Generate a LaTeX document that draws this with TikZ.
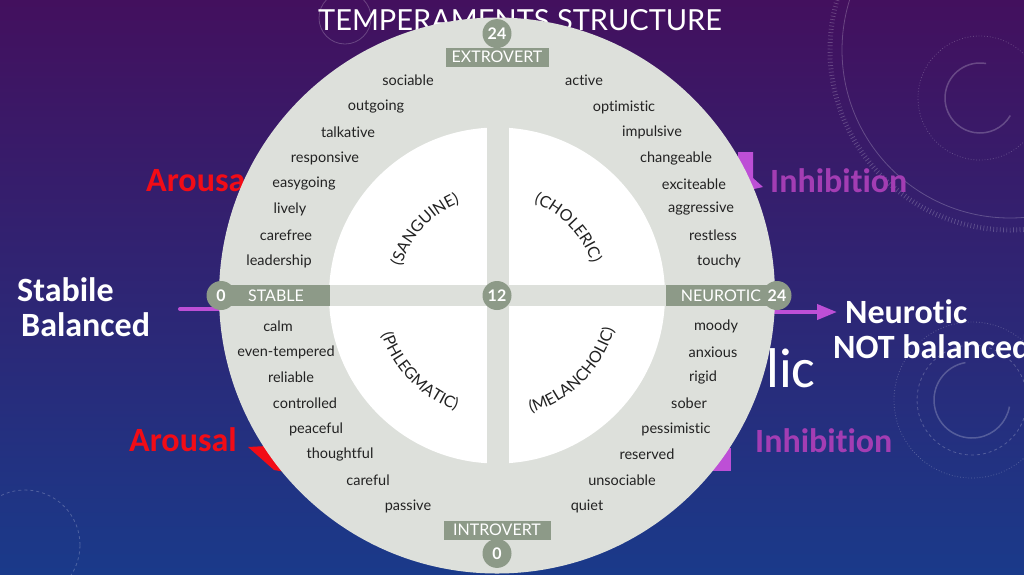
\documentclass[tikz,border=0pt]{standalone}
\usepackage{fontspec}
\setmainfont{Lato}[Ligatures=NoCommon]
\newfontfamily\slidefont{Carlito}[Ligatures=NoCommon]
\usepackage{tikz}
\usetikzlibrary{positioning,decorations.text,arrows.meta}

\definecolor{bgTop}{HTML}{43105E}
\definecolor{bgMid}{HTML}{33216F}
\definecolor{bgBot}{HTML}{1A3A8A}
\definecolor{ringGray}{HTML}{DDE0DB}
\definecolor{axisGreen}{HTML}{8D9A88}
\definecolor{traitInk}{HTML}{222222}
\definecolor{arousalRed}{HTML}{F20C16}
\definecolor{inhibPurple}{HTML}{A33DB3}
\definecolor{arrowPurple}{HTML}{BD4FD6}

\newcommand\traitsize{\fontsize{14.5}{16}\selectfont}
\newcommand\quadsize{\fontsize{16}{18}\selectfont}

\tikzset{
	trait/.style={text=traitInk, font=\traitsize, inner sep=0pt},
	axisbar/.style={fill=axisGreen, text=white, font=\fontsize{16}{18}\selectfont, inner sep=0pt, minimum height=21pt},
	badge/.style={circle, fill=axisGreen, text=white, font=\bfseries\fontsize{16}{18}\selectfont, minimum size=29pt, inner sep=0pt},
	slideword/.style={font=\slidefont\bfseries\fontsize{34}{38}\selectfont, inner sep=0pt, anchor=west},
	temperament/.style={decorate, decoration={text along path, text align=center, text={|\quadsize\color{traitInk}|#1}}},
	faint/.style={draw=white, opacity=.22, line width=.8pt},
}

\begin{document}
\begin{tikzpicture}[x=1pt, y=1pt]
		\useasboundingbox (0,0) rectangle (1024,-574);
		\clip (0,0) rectangle (1024,-574);
		\shade[top color=bgTop, middle color=bgMid, bottom color=bgBot] (0,0) rectangle (1024,-574);
		
		% slide background rings
		\draw[faint, line width=5pt, dash pattern=on .7pt off 2.6pt] (1010,-50) circle[radius=180];
		\draw[faint] (1010,-50) circle[radius=168];
		\draw[faint, dotted] (980,-98) circle[radius=62];
		\draw[faint, line width=1.5pt] ([shift={(980,-98)}]80:35) arc[start angle=80, end angle=330, radius=35];
		\draw[faint, dashed] (972,-400) circle[radius=55];
		\draw[faint, dotted] (972,-400) circle[radius=78];
		\draw[faint, line width=1.5pt] ([shift={(972,-400)}]100:38) arc[start angle=100, end angle=350, radius=38];
		\draw[faint, dashed] (25,-545) circle[radius=55];
		\draw[faint] (345,-18) circle[radius=26];
		
		\node[text=white, font=\fontsize{29}{32}\selectfont, inner sep=0pt] (title) at (520,-20) {TEMPERAMENTS STRUCTURE};
		
		\node[slideword, text=arousalRed] (arousalTop) at (146,-181) {Arousa};
		\node[slideword, text=arousalRed] (arousalBot) at (129,-440) {Arousal};
		\node[slideword, text=inhibPurple] (inhibTop) at (770,-181) {Inhibition};
		\node[slideword, text=inhibPurple] (inhibBot) at (755,-441) {Inhibition};
		\node[slideword, text=white] (stabile) at (17,-290) {Stabile};
		\node[slideword, text=white] (balanced) at (21,-325) {Balanced};
		\node[slideword, text=white] (neurotic) at (845,-312) {Neurotic};
		\node[slideword, text=white] (notBalanced) at (833,-347) {NOT balanced};
		\node[font=\slidefont\fontsize{56}{60}\selectfont, text=white, inner sep=0pt, anchor=west] (lic) at (766,-368) {lic};
		
		\fill[arousalRed] (248,-447) -- (286,-445) -- (286,-472) -- (274,-470) -- cycle;
		\fill[arrowPurple] (712,-448) rectangle (731,-471);
		\fill[arrowPurple] (738,-152) -- (753,-152) -- (753,-178) -- (763,-187) -- (745,-191) -- (738,-186) -- cycle;
		
		\coordinate (stabLineIn) at (240,-309);
		\coordinate (stabLineOut) at (180,-309);
		\coordinate (neuroLineIn) at (766,-312);
		\coordinate (neuroLineOut) at (837,-312);
		\draw[arrowPurple, line width=4pt, line cap=round] (stabLineIn) -- (stabLineOut);
		\draw[arrowPurple, line width=4pt, -{Triangle[length=20pt, width=15pt]}] (neuroLineIn) -- (neuroLineOut);
		
		% the wheel
		\coordinate (C) at (497,-295.5);
		\fill[ringGray] (C) circle[radius=278];
		\fill[white] (C) circle[radius=168];
		\fill[ringGray] (325,-285) rectangle (670,-306);
		\fill[ringGray] (486.5,-125) rectangle (508.5,-466);
		
		\node[axisbar, minimum width=108pt] (stableBar) at (276,-295.5) {STABLE};
		\node[axisbar, minimum width=111pt] (neuroBar) at (721,-295.5) {NEUROTIC};
		\node[axisbar, minimum width=103pt, minimum height=19pt] (extroBar) at (497,-57) {EXTROVERT};
		\node[axisbar, minimum width=107pt, minimum height=19pt] (introBar) at (497,-530) {INTROVERT};
		\node[badge] (stableZero) at (221,-295.5) {0};
		\node[badge] (neuroTwentyFour) at (777,-295.5) {24};
		\node[badge] (centerTwelve) at (C) {12};
		\node[badge, above=-1pt of extroBar] (extroTwentyFour) {24};
		\node[badge, below=-1pt of introBar] (introZero) {0};
		
		\node[trait] (sociable) at (408,-80) {sociable};
		\node[trait] (outgoing) at (376,-107) {outgoing};
		\node[trait] (talkative) at (348,-132) {talkative};
		\node[trait] (responsive) at (325,-158) {responsive};
		\node[trait] (easygoing) at (304,-184) {easygoing};
		\node[trait] (lively) at (290,-209) {lively};
		\node[trait] (carefree) at (286,-235) {carefree};
		\node[trait] (leadership) at (279,-261) {leadership};
		
		\node[trait] (active) at (584,-80) {active};
		\node[trait] (optimistic) at (624,-107) {optimistic};
		\node[trait] (impulsive) at (652,-132) {impulsive};
		\node[trait] (changeable) at (676,-158) {changeable};
		\node[trait] (exciteable) at (694,-184) {exciteable};
		\node[trait] (aggressive) at (701,-209) {aggressive};
		\node[trait] (restless) at (713,-235) {restless};
		\node[trait] (touchy) at (719,-261) {touchy};
		
		\node[trait] (calm) at (278,-326) {calm};
		\node[trait] (evenTempered) at (286,-352) {even-tempered};
		\node[trait] (reliable) at (291,-377) {reliable};
		\node[trait] (controlled) at (305,-403) {controlled};
		\node[trait] (peaceful) at (316,-429) {peaceful};
		\node[trait] (thoughtful) at (340,-454) {thoughtful};
		\node[trait] (careful) at (368,-480) {careful};
		\node[trait] (passive) at (408,-506) {passive};
		
		\node[trait] (moody) at (716,-326) {moody};
		\node[trait] (anxious) at (713,-352) {anxious};
		\node[trait] (rigid) at (703,-377) {rigid};
		\node[trait] (sober) at (689,-403) {sober};
		\node[trait] (pessimistic) at (676,-429) {pessimistic};
		\node[trait] (reserved) at (647,-454) {reserved};
		\node[trait] (unsociable) at (622,-480) {unsociable};
		\node[trait] (quiet) at (587,-506) {quiet};
		
		\path[temperament={(SANGUINE)}] ([shift={(C)}]180:100) arc[start angle=180, end angle=95, radius=100];
		\path[temperament={(CHOLERIC)}] ([shift={(C)}]88:100) arc[start angle=88, end angle=-1, radius=100];
		\path[temperament={(PHLEGMATIC)}] ([shift={(C)}]180:122) arc[start angle=180, end angle=269, radius=122];
		\path[temperament={(MELANCHOLIC)}] ([shift={(C)}]270:122) arc[start angle=270, end angle=360, radius=122];
	\end{tikzpicture}
\end{document}
